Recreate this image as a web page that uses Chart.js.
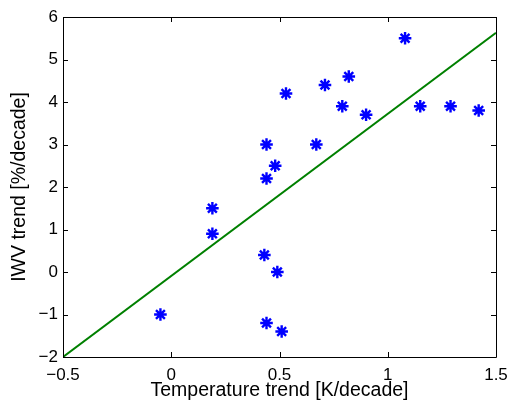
<!DOCTYPE html>
<html>
<head>
<meta charset="utf-8">
<script src="https://cdn.jsdelivr.net/npm/chart.js@4/dist/chart.umd.min.js"></script>
<style>
html,body{margin:0;padding:0;background:#fff;}
#wrap{width:511px;height:402px;}
</style>
</head>
<body>
<div id="wrap"><canvas id="c" width="511" height="402"></canvas></div>
<script>
const tempTrend = [1.08, 0.53, 0.71, 0.82, 0.79, 0.90, 1.15, 1.29, 1.42, 0.44, 0.67, 0.48, 0.44, 0.19, 0.19, 0.43, 0.49, -0.05, 0.44, 0.51];
const iwvTrend  = [5.5, 4.2, 4.4, 4.6, 3.9, 3.7, 3.9, 3.9, 3.8, 3.0, 3.0, 2.5, 2.2, 1.5, 0.9, 0.4, 0.0, -1.0, -1.2, -1.4];
const fitX = [-0.5, 1.5];
const fitY = [-2.0, 5.63];
const xTicks = [-0.5, 0, 0.5, 1, 1.5];
const yTicks = [-2, -1, 0, 1, 2, 3, 4, 5, 6];
const xTitle = 'Temperature trend [K/decade]';
const yTitle = 'IWV trend [%/decade]';

const FONT = '"Liberation Sans", Arial, Helvetica, sans-serif';

function fmt(v){ return (v < 0 ? '\u2212' : '') + String(Math.abs(v)); }

const boxPlugin = {
  id: 'box',
  afterDatasetsDraw(chart){
    const {ctx, chartArea:a, scales:{x, y}} = chart;
    ctx.save();
    ctx.strokeStyle = '#000';
    ctx.lineWidth = 1;
    ctx.beginPath();
    ctx.rect(Math.round(a.left)+0.5, Math.round(a.top)+0.5, Math.round(a.right-a.left), Math.round(a.bottom-a.top));
    const L = 5;
    xTicks.forEach(v => {
      const px = Math.round(x.getPixelForValue(v)) + 0.5;
      ctx.moveTo(px, a.bottom); ctx.lineTo(px, a.bottom - L);
      ctx.moveTo(px, a.top); ctx.lineTo(px, a.top + L);
    });
    yTicks.forEach(v => {
      const py = Math.round(y.getPixelForValue(v)) + 0.5;
      ctx.moveTo(a.left, py); ctx.lineTo(a.left + L, py);
      ctx.moveTo(a.right, py); ctx.lineTo(a.right - L, py);
    });
    ctx.stroke();
    ctx.restore();
  }
};

new Chart(document.getElementById('c'), {
  type: 'scatter',
  data: {
    datasets: [
      {
        label: 'fit',
        data: fitX.map((v,i)=>({x:v, y:fitY[i]})),
        showLine: true,
        borderColor: '#008000',
        borderWidth: 2,
        pointRadius: 0,
        fill: false,
        order: 2
      },
      {
        label: 'stations',
        data: tempTrend.map((v,i)=>({x:v, y:iwvTrend[i]})),
        pointStyle: 'star',
        pointRadius: 6.3,
        pointBorderWidth: 2.4,
        pointBorderColor: '#0000ff',
        pointBackgroundColor: '#0000ff',
        showLine: false,
        order: 1
      }
    ]
  },
  options: {
    responsive: false,
    animation: false,
    devicePixelRatio: 1,
    layout: { padding: { top: 17, right: 15, left: 0, bottom: 0 } },
    plugins: { legend: { display: false }, tooltip: { enabled: false } },
    scales: {
      x: {
        type: 'linear', min: -0.5, max: 1.5,
        afterBuildTicks(s){ s.ticks = xTicks.map(v=>({value:v})); },
        afterFit(s){ s.height = 45; s.paddingLeft = 0; s.paddingRight = 0; },
        grid: { display: false, drawTicks: false },
        border: { display: false },
        ticks: { color: '#000', font: { family: FONT, size: 17 }, padding: 8, maxRotation: 0, autoSkip: false, callback: v => fmt(v) },
        title: { display: true, text: xTitle, color: '#000', font: { family: FONT, size: 19.5 }, padding: { top: 3, bottom: 0 } }
      },
      y: {
        type: 'linear', min: -2, max: 6,
        afterBuildTicks(s){ s.ticks = yTicks.map(v=>({value:v})); },
        afterFit(s){ s.width = 63; s.paddingTop = 0; s.paddingBottom = 0; },
        grid: { display: false, drawTicks: false },
        border: { display: false },
        ticks: { color: '#000', font: { family: FONT, size: 17 }, padding: 5, autoSkip: false, callback: v => fmt(v) },
        title: { display: true, text: yTitle, color: '#000', font: { family: FONT, size: 19.5 }, padding: { top: 8, bottom: 0 } }
      }
    }
  },
  plugins: [boxPlugin]
});
</script>
</body>
</html>
